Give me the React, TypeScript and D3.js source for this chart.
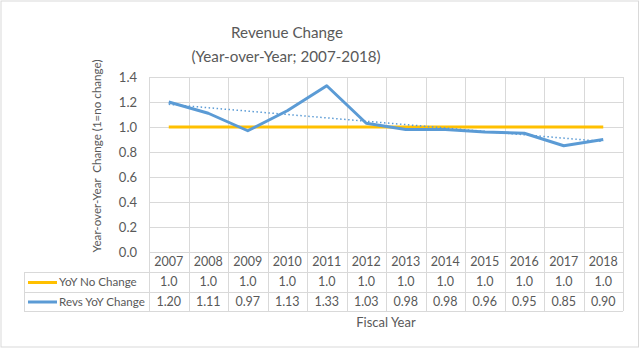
import React from "react";
import * as d3 from "d3";

const years = ["2007","2008","2009","2010","2011","2012","2013","2014","2015","2016","2017","2018"];
const noChange = [1.0,1.0,1.0,1.0,1.0,1.0,1.0,1.0,1.0,1.0,1.0,1.0];
const revsChange = [1.20,1.11,0.97,1.13,1.33,1.03,0.98,0.98,0.96,0.95,0.85,0.90];
const yTicks = [0,0.2,0.4,0.6,0.8,1.0,1.2,1.4];

const W = 640, H = 349;
const FONT = "Lato, 'Open Sans', sans-serif";
const TXT = "#595959";
const GRID = "#d9d9d9";
const BLUE = "#5B9BD5";
const ORANGE = "#FFC000";

export default function App() {
  const left = 149, right = 623, top = 77, bottom = 252;
  const tableLeft = 24;
  const rowEdges = [252, 272, 292, 311];
  const x = d3.scaleBand<string>().domain(years).range([left, right]).padding(0);
  const cx = (d: string) => (x(d) as number) + x.bandwidth() / 2;
  const y = d3.scaleLinear().domain([0, 1.4]).range([bottom, top]);

  const line = d3.line<[number, number]>().x(d => d[0]).y(d => d[1]);
  const noPts = years.map((d, i) => [cx(d), y(noChange[i])] as [number, number]);
  const revPts = years.map((d, i) => [cx(d), y(revsChange[i])] as [number, number]);

  // linear trendline
  const xs = years.map((_, i) => i + 1);
  const mx = d3.mean(xs) as number;
  const my = d3.mean(revsChange) as number;
  const sxy = d3.sum(xs.map((v, i) => (v - mx) * (revsChange[i] - my)));
  const sxx = d3.sum(xs.map(v => (v - mx) ** 2));
  const slope = sxy / sxx;
  const icpt = my - slope * mx;
  const trendPts: [number, number][] = [
    [cx(years[0]), y(icpt + slope * 1)],
    [cx(years[years.length - 1]), y(icpt + slope * years.length)],
  ];

  const boundaries = years.map(d => x(d) as number).concat([right]);
  const r2 = (rowEdges[1] + rowEdges[2]) / 2;
  const r3 = (rowEdges[2] + rowEdges[3]) / 2;

  return (
    <div style={{ position: "fixed", left: 0, top: 0 }}>
      <svg width={W} height={H} style={{ display: "block", background: "#fff" }} fontFamily={FONT}>
        <rect x={1} y={1} width={637.5} height={346} fill="#fff" stroke={GRID} strokeWidth={1} />
        <text x={287} y={38} textAnchor="middle" fontSize={15.2} fill={TXT}>Revenue Change</text>
        <text x={286} y={62} textAnchor="middle" fontSize={15.2} fill={TXT}>(Year-over-Year; 2007-2018)</text>

        {yTicks.map(t => (
          <line key={"h" + t} x1={left} x2={right} y1={Math.round(y(t)) + 0.5} y2={Math.round(y(t)) + 0.5} stroke={GRID} strokeWidth={1} />
        ))}
        {boundaries.map((b, i) => (
          <line key={"v" + i} x1={Math.round(b) + 0.5} x2={Math.round(b) + 0.5} y1={top} y2={rowEdges[3]} stroke={GRID} strokeWidth={1} />
        ))}
        {rowEdges.slice(1).map((r, i) => (
          <line key={"r" + i} x1={tableLeft} x2={right} y1={r + 0.5} y2={r + 0.5} stroke={GRID} strokeWidth={1} />
        ))}
        <line x1={tableLeft + 0.5} x2={tableLeft + 0.5} y1={rowEdges[1]} y2={rowEdges[3]} stroke={GRID} strokeWidth={1} />

        {yTicks.map(t => (
          <text key={"t" + t} x={137} y={y(t)} dy="0.35em" textAnchor="end" fontSize={13} fill={TXT}>{t.toFixed(1)}</text>
        ))}

        <text transform={`translate(101,156) rotate(-90)`} textAnchor="middle" fontSize={11.6} fill={TXT} style={{ whiteSpace: "pre" }}>{"Year-over-Year  Change (1=no change)"}</text>

        <path d={line(noPts) as string} fill="none" stroke={ORANGE} strokeWidth={3} />
        <path d={line(revPts) as string} fill="none" stroke={BLUE} strokeWidth={3} strokeLinejoin="round" />
        <path d={line(trendPts) as string} fill="none" stroke={BLUE} strokeWidth={1.5} strokeDasharray="1.5,2.5" />

        {years.map((d, i) => (
          <g key={"c" + d}>
            <text x={cx(d)} y={(rowEdges[0] + rowEdges[1]) / 2} dy="0.35em" textAnchor="middle" fontSize={12.5} fill={TXT}>{d}</text>
            <text x={cx(d)} y={r2} dy="0.35em" textAnchor="middle" fontSize={12.5} fill={TXT}>{noChange[i].toFixed(1)}</text>
            <text x={cx(d)} y={r3} dy="0.35em" textAnchor="middle" fontSize={12.5} fill={TXT}>{revsChange[i].toFixed(2)}</text>
          </g>
        ))}
        <line x1={28} x2={57} y1={r2 + 0.5} y2={r2 + 0.5} stroke={ORANGE} strokeWidth={3} />
        <line x1={28} x2={57} y1={r3 + 0.5} y2={r3 + 0.5} stroke={BLUE} strokeWidth={3} />
        <text x={59} y={r2} dy="0.35em" fontSize={11.6} fill={TXT}>YoY No Change</text>
        <text x={59} y={r3} dy="0.35em" fontSize={11.6} fill={TXT}>Revs YoY Change</text>

        <text x={(left + right) / 2} y={327} textAnchor="middle" fontSize={13} fill={TXT}>Fiscal Year</text>
      </svg>
    </div>
  );
}
